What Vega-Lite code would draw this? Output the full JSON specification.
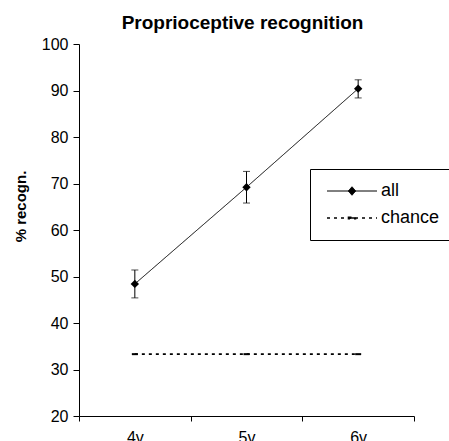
{
  "$schema": "https://vega.github.io/schema/vega-lite/v6.json",
  "width": 335,
  "height": 372,
  "autosize": {"type": "none"},
  "padding": {"left": 79, "top": 44, "right": 35, "bottom": 25},
  "background": "white",
  "title": {
    "text": "Proprioceptive recognition",
    "font": "Liberation Sans",
    "fontSize": 19,
    "fontWeight": "bold",
    "color": "black",
    "anchor": "middle",
    "dx": -4,
    "offset": -12,
    "baseline": "alphabetic"
  },
  "config": {
    "view": {"stroke": null},
    "font": "Liberation Sans",
    "axis": {
      "domainColor": "black",
      "tickColor": "black",
      "labelColor": "black",
      "titleColor": "black",
      "grid": false,
      "labelFont": "Liberation Sans",
      "labelFontSize": 16
    }
  },
  "data": {
    "values": [
      {"cond": "4v", "series": "all", "pct": 48.4, "lo": 45.4, "hi": 51.4},
      {"cond": "5v", "series": "all", "pct": 69.2, "lo": 65.8, "hi": 72.6},
      {"cond": "6v", "series": "all", "pct": 90.4, "lo": 88.4, "hi": 92.3},
      {"cond": "4v", "series": "chance", "pct": 33.3},
      {"cond": "5v", "series": "chance", "pct": 33.3},
      {"cond": "6v", "series": "chance", "pct": 33.3}
    ]
  },
  "encoding": {
    "x": {
      "field": "cond",
      "type": "nominal",
      "sort": ["4v", "5v", "6v"],
      "scale": {"type": "band", "paddingInner": 0, "paddingOuter": 0},
      "axis": {
        "title": null,
        "labelAngle": 0,
        "tickBand": "extent",
        "tickSize": 5,
        "labelPadding": 8,
        "labelFontSize": 16,
        "domainWidth": 1
      }
    },
    "y": {
      "field": "pct",
      "type": "quantitative",
      "title": "% recogn.",
      "scale": {"domain": [20, 100], "nice": false, "zero": false},
      "axis": {
        "title": "% recogn.",
        "titleFont": "Liberation Sans",
        "titleFontSize": 15,
        "titleFontWeight": "bold",
        "titleColor": "black",
        "values": [20, 30, 40, 50, 60, 70, 80, 90, 100],
        "tickSize": 6,
        "labelPadding": 5,
        "labelFontSize": 16,
        "titlePadding": 13,
        "titleY": 162
      }
    }
  },
  "layer": [
    {
      "mark": {"type": "line"},
      "encoding": {
        "color": {
          "field": "series",
          "type": "nominal",
          "scale": {"domain": ["all", "chance"], "range": ["black", "black"]},
          "legend": {
            "orient": "none",
            "legendX": 231,
            "legendY": 125,
            "title": null,
            "strokeColor": "black",
            "padding": 13,
            "labelFont": "Liberation Sans",
            "labelFontSize": 18,
            "labelColor": "black",
            "labelOffset": 20,
            "symbolSize": 100,
            "symbolOffset": 20,
            "symbolStrokeWidth": 1,
            "symbolStrokeColor": "black",
            "rowPadding": 9,
            "encode": {
              "symbols": {
                "update": {
                  "shape": {"signal": "datum.value === 'all' ? 'M-5,0H5M0,-0.85L0.75,0L0,0.85L-0.75,0Z' : 'M-5,0H5M-0.7,-0.15H0.7V0.15H-0.7Z'"},
                  "strokeDash": {"signal": "datum.value === 'chance' ? [3, 4] : [1, 0]"},
                  "fill": {"value": "black"},
                  "stroke": {"value": "black"}
                }
              }
            }
          }
        },
        "strokeDash": {
          "field": "series",
          "type": "nominal",
          "scale": {"domain": ["all", "chance"], "range": [[1, 0], [3, 4]]},
          "legend": null
        },
        "strokeWidth": {
          "field": "series",
          "type": "nominal",
          "scale": {"domain": ["all", "chance"], "range": [1, 1.6]},
          "legend": null
        }
      }
    },
    {
      "transform": [{"filter": "datum.series === 'all'"}],
      "mark": {"type": "rule", "color": "black", "strokeWidth": 1},
      "encoding": {
        "y": {"field": "lo", "type": "quantitative", "title": "% recogn."},
        "y2": {"field": "hi"}
      }
    },
    {
      "transform": [{"filter": "datum.series === 'all'"}],
      "mark": {"type": "tick", "color": "black", "thickness": 1, "size": 7},
      "encoding": {"y": {"field": "lo", "type": "quantitative", "title": "% recogn."}}
    },
    {
      "transform": [{"filter": "datum.series === 'all'"}],
      "mark": {"type": "tick", "color": "black", "thickness": 1, "size": 7},
      "encoding": {"y": {"field": "hi", "type": "quantitative", "title": "% recogn."}}
    },
    {
      "transform": [{"filter": "datum.series === 'all'"}],
      "mark": {"type": "point", "shape": "diamond", "filled": true, "color": "black", "size": 70, "opacity": 1}
    },
    {
      "transform": [{"filter": "datum.series === 'chance'"}],
      "mark": {"type": "point", "shape": "stroke", "color": "black", "size": 36, "strokeWidth": 2, "opacity": 1}
    }
  ]
}
